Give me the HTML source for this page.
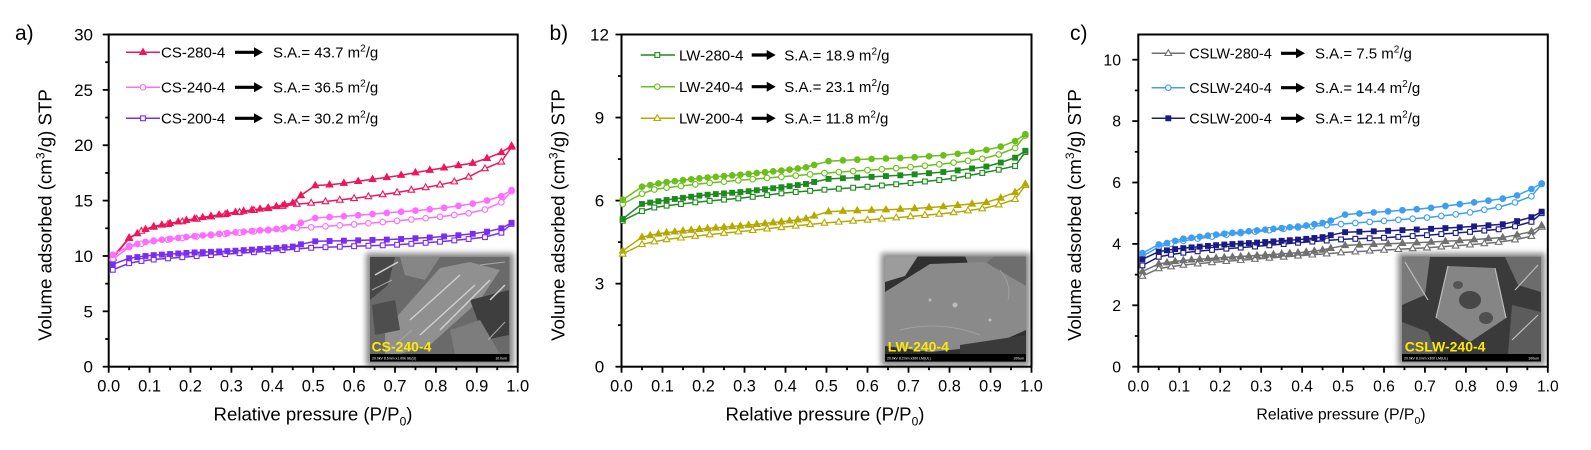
<!DOCTYPE html>
<html><head><meta charset="utf-8">
<style>
html,body{margin:0;padding:0;background:#fff;}
svg{display:block;}
text{font-family:"Liberation Sans",Arial,sans-serif;}
</style></head><body>
<svg id="s" width="1591" height="450" viewBox="0 0 1591 450" xmlns="http://www.w3.org/2000/svg">
<defs>
<filter id="sh" x="-20%" y="-20%" width="140%" height="140%"><feGaussianBlur stdDeviation="3"/></filter>
<clipPath id="cla"><rect x="370" y="256.7" width="139.5" height="105"/></clipPath>
<clipPath id="clb"><rect x="885" y="256.5" width="141" height="105.2"/></clipPath>
<clipPath id="clc"><rect x="1402" y="256.7" width="139" height="104.8"/></clipPath>
</defs>

<!-- inset a -->
<rect x="366" y="253" width="148" height="113" fill="#8a8a8a" filter="url(#sh)"/>
<g clip-path="url(#cla)">
<rect x="370" y="256.7" width="139.5" height="105" fill="#6a6a6a"/>
<polygon points="370,257 395,257 388,285 370,300" fill="#474747"/>
<polygon points="400,257 440,257 425,280 405,275" fill="#868686"/>
<polygon points="385,330 440,268 470,262 500,270 480,300 430,345 400,354 385,354" fill="#909090"/>
<polygon points="470,300 509,290 509,335 485,340" fill="#3e3e3e"/>
<polygon points="372,305 395,300 400,330 375,335" fill="#4e4e4e"/>
<polygon points="450,330 480,320 500,354 455,354" fill="#7d7d7d"/>
<g stroke="#cfcfcf" stroke-width="1.5">
<line x1="410" y1="320" x2="460" y2="275"/>
<line x1="420" y1="335" x2="475" y2="285"/>
<line x1="440" y1="330" x2="490" y2="280"/>
<line x1="375" y1="275" x2="398" y2="262"/>
<line x1="490" y1="300" x2="505" y2="285"/>
</g>
<g stroke="#a8a8a8" stroke-width="1">
<line x1="372" y1="290" x2="392" y2="280"/>
<line x1="480" y1="265" x2="505" y2="262"/>
<line x1="395" y1="345" x2="412" y2="330"/>
<line x1="488" y1="340" x2="505" y2="322"/>
</g>
<rect x="370" y="354" width="139.5" height="7.7" fill="#000"/>
<text x="372" y="359.5" font-size="3.5" fill="#fff">20.0kV 8.6mm x1.00k SE(U)</text>
<text x="507" y="359.5" font-size="3.5" fill="#fff" text-anchor="end">10.0um</text>
<text x="371.5" y="351.5" font-size="14" font-weight="bold" fill="#ffe800">CS-240-4</text>
</g>

<!-- inset b -->
<rect x="881" y="253" width="149" height="113" fill="#8a8a8a" filter="url(#sh)"/>
<g clip-path="url(#clb)">
<rect x="885" y="256.5" width="141" height="105.2" fill="#303030"/>
<polygon points="885,256 918,256 905,276 885,282" fill="#9c9c9c"/>
<polygon points="965,256 1000,256 990,270 970,268" fill="#7e7e7e"/>
<ellipse cx="1010" cy="282" rx="30" ry="30" fill="#6e6e6e"/>
<polygon points="885,292 930,264 985,262 1026,286 1026,330 990,346 930,352 885,346" fill="#8a8a8a"/>
<polygon points="960,345 1026,335 1026,354 960,354" fill="#3a3a3a"/>
<g fill="#bdbdbd"><circle cx="955" cy="305" r="2.5"/><circle cx="930" cy="300" r="1.5"/><circle cx="990" cy="320" r="1.5"/></g>
<g stroke="#a0a0a0" stroke-width="1" fill="none">
<path d="M900 330 Q940 320 980 335"/>
<path d="M1000 270 Q1012 285 1008 300"/>
</g>
<rect x="885" y="354" width="141" height="7.7" fill="#000"/>
<text x="887" y="359.5" font-size="3.5" fill="#fff">20.0kV 8.2mm x300 LM(UL)</text>
<text x="1024" y="359.5" font-size="3.5" fill="#fff" text-anchor="end">100um</text>
<text x="887.7" y="351.7" font-size="14" font-weight="bold" fill="#ffe800">LW-240-4</text>
</g>

<!-- inset c -->
<rect x="1398" y="253" width="147" height="112" fill="#8a8a8a" filter="url(#sh)"/>
<g clip-path="url(#clc)">
<rect x="1402" y="256.7" width="139" height="104.8" fill="#3a3a3a"/>
<polygon points="1402,257 1430,257 1425,295 1402,305" fill="#7a7a7a"/>
<polygon points="1448,266 1495,268 1506,318 1470,342 1436,318" fill="#858585"/>
<ellipse cx="1470" cy="300" rx="11" ry="9" fill="#474747"/>
<ellipse cx="1486" cy="318" rx="7" ry="6" fill="#4f4f4f"/>
<ellipse cx="1458" cy="285" rx="5" ry="4" fill="#555"/>
<polygon points="1505,257 1541,257 1541,292 1518,285" fill="#6c6c6c"/>
<polygon points="1512,305 1541,312 1541,354 1508,354" fill="#5c5c5c"/>
<polygon points="1402,322 1428,332 1436,354 1402,354" fill="#606060"/>
<g stroke="#bdbdbd" stroke-width="1.2" fill="none">
<line x1="1405" y1="262" x2="1428" y2="300"/>
<line x1="1448" y1="266" x2="1436" y2="318"/>
<line x1="1495" y1="268" x2="1506" y2="318"/>
<line x1="1515" y1="290" x2="1538" y2="265"/>
<line x1="1512" y1="340" x2="1538" y2="315"/>
</g>
<rect x="1402" y="354" width="139" height="7.5" fill="#000"/>
<text x="1404" y="359.5" font-size="3.5" fill="#fff">20.0kV 8.3mm x300 LM(UL)</text>
<text x="1539" y="359.5" font-size="3.5" fill="#fff" text-anchor="end">100um</text>
<text x="1404.8" y="351.7" font-size="14" font-weight="bold" fill="#ffe800">CSLW-240-4</text>
</g>

<!-- frames -->
<g fill="none" stroke="#000" stroke-width="2">
<rect x="108.7" y="34.5" width="409" height="332.2"/>
<rect x="621.5" y="34.5" width="410" height="332.2"/>
<rect x="1138.3" y="34.5" width="409.5" height="332.2"/>
</g>
<g id="ticks" stroke="#000" stroke-width="1.8"></g>
<g id="data"></g>

<!-- panel labels -->
<text x="15" y="40" font-size="21">a)</text>
<text x="549.5" y="40" font-size="21">b)</text>
<text x="1070" y="40" font-size="21">c)</text>

<!-- panel a tick labels -->
<g font-size="17" text-anchor="end">
<text x="93" y="372.7">0</text><text x="93" y="317.3">5</text><text x="93" y="262">10</text>
<text x="93" y="206.6">15</text><text x="93" y="151.2">20</text><text x="93" y="95.9">25</text><text x="93" y="40.5">30</text>
</g>
<g font-size="16.5" text-anchor="middle">
<text x="108.7" y="391.5">0.0</text><text x="149.6" y="391.5">0.1</text><text x="190.5" y="391.5">0.2</text>
<text x="231.4" y="391.5">0.3</text><text x="272.3" y="391.5">0.4</text><text x="313.2" y="391.5">0.5</text>
<text x="354.1" y="391.5">0.6</text><text x="395" y="391.5">0.7</text><text x="435.9" y="391.5">0.8</text>
<text x="476.8" y="391.5">0.9</text><text x="517.7" y="391.5">1.0</text>
</g>
<!-- panel b tick labels -->
<g font-size="17" text-anchor="middle">
<text x="599.5" y="372.7">0</text><text x="599.5" y="289.6">3</text><text x="599.5" y="206.6">6</text>
<text x="599.5" y="123.5">9</text><text x="599.5" y="40.5">12</text>
</g>
<g font-size="16.3" text-anchor="middle">
<text x="621.5" y="391.5">0.0</text><text x="662.5" y="391.5">0.1</text><text x="703.5" y="391.5">0.2</text>
<text x="744.5" y="391.5">0.3</text><text x="785.5" y="391.5">0.4</text><text x="826.5" y="391.5">0.5</text>
<text x="867.5" y="391.5">0.6</text><text x="908.5" y="391.5">0.7</text><text x="949.5" y="391.5">0.8</text>
<text x="990.5" y="391.5">0.9</text><text x="1031.5" y="391.5">1.0</text>
</g>
<!-- panel c tick labels -->
<g font-size="15.8" text-anchor="end">
<text x="1121" y="372.3">0</text><text x="1121" y="310.9">2</text><text x="1121" y="249.5">4</text>
<text x="1121" y="188.1">6</text><text x="1121" y="126.7">8</text><text x="1121" y="65.3">10</text>
</g>
<g font-size="15.6" text-anchor="middle">
<text x="1138.3" y="391.5">0.0</text><text x="1179.3" y="391.5">0.1</text><text x="1220.2" y="391.5">0.2</text>
<text x="1261.2" y="391.5">0.3</text><text x="1302.1" y="391.5">0.4</text><text x="1343.1" y="391.5">0.5</text>
<text x="1384" y="391.5">0.6</text><text x="1425" y="391.5">0.7</text><text x="1465.9" y="391.5">0.8</text>
<text x="1506.9" y="391.5">0.9</text><text x="1547.8" y="391.5">1.0</text>
</g>

<!-- axis titles -->
<text x="313" y="420.7" font-size="18.6" text-anchor="middle">Relative pressure (P/P<tspan font-size="12" dy="5">0</tspan><tspan dy="-5">)</tspan></text>
<text x="825" y="420.7" font-size="18.6" text-anchor="middle">Relative pressure (P/P<tspan font-size="12" dy="5">0</tspan><tspan dy="-5">)</tspan></text>
<text x="1341" y="419.5" font-size="15.8" text-anchor="middle">Relative pressure (P/P<tspan font-size="10.5" dy="4.5">0</tspan><tspan dy="-4.5">)</tspan></text>

<text transform="translate(51.5,215) rotate(-90)" font-size="18.7" text-anchor="middle">Volume adsorbed (cm<tspan font-size="12" dy="-7">3</tspan><tspan dy="7">/g) STP</tspan></text>
<text transform="translate(564.5,215) rotate(-90)" font-size="18.7" text-anchor="middle">Volume adsorbed (cm<tspan font-size="12" dy="-7">3</tspan><tspan dy="7">/g) STP</tspan></text>
<text transform="translate(1081,215) rotate(-90)" font-size="18.7" text-anchor="middle">Volume adsorbed (cm<tspan font-size="12" dy="-7">3</tspan><tspan dy="7">/g) STP</tspan></text>

<!-- legends text -->
<g font-size="15">
<text x="161" y="57.6">CS-280-4</text>
<text x="273" y="57.6">S.A.= 43.7 m<tspan font-size="10" dy="-6">2</tspan><tspan dy="6">/g</tspan></text>
<text x="161" y="92.6">CS-240-4</text>
<text x="273" y="92.6">S.A.= 36.5 m<tspan font-size="10" dy="-6">2</tspan><tspan dy="6">/g</tspan></text>
<text x="161" y="123.6">CS-200-4</text>
<text x="273" y="123.6">S.A.= 30.2 m<tspan font-size="10" dy="-6">2</tspan><tspan dy="6">/g</tspan></text>

<text x="679" y="60.3">LW-280-4</text>
<text x="784.3" y="60.3">S.A.= 18.9 m<tspan font-size="10" dy="-6">2</tspan><tspan dy="6">/g</tspan></text>
<text x="679" y="92">LW-240-4</text>
<text x="784.3" y="92">S.A.= 23.1 m<tspan font-size="10" dy="-6">2</tspan><tspan dy="6">/g</tspan></text>
<text x="679" y="123.6">LW-200-4</text>
<text x="784.3" y="123.6">S.A.= 11.8 m<tspan font-size="10" dy="-6">2</tspan><tspan dy="6">/g</tspan></text>

<text x="1189.3" y="58.6" font-size="14.5">CSLW-280-4</text>
<text x="1315" y="58.6">S.A.= 7.5 m<tspan font-size="10" dy="-6">2</tspan><tspan dy="6">/g</tspan></text>
<text x="1189.3" y="93" font-size="14.5">CSLW-240-4</text>
<text x="1315" y="93">S.A.= 14.4 m<tspan font-size="10" dy="-6">2</tspan><tspan dy="6">/g</tspan></text>
<text x="1189.3" y="123.6" font-size="14.5">CSLW-200-4</text>
<text x="1315" y="123.6">S.A.= 12.1 m<tspan font-size="10" dy="-6">2</tspan><tspan dy="6">/g</tspan></text>
</g>

<!-- arrows -->
<g fill="#000">
<path d="M235 50.7H254V47.3L263 52.3L254 57.3V53.9H235Z"/>
<path d="M235 85.7H254V82.3L263 87.3L254 92.3V88.9H235Z"/>
<path d="M235 116.7H254V113.3L263 118.3L254 123.3V119.9H235Z"/>
<path d="M751.7 53.4H766.7V50L775.7 55L766.7 60V56.6H751.7Z"/>
<path d="M751.7 85.1H766.7V81.7L775.7 86.7L766.7 91.7V88.3H751.7Z"/>
<path d="M751.7 116.7H766.7V113.3L775.7 118.3L766.7 123.3V119.9H751.7Z"/>
<path d="M1281 51.7H1296V48.3L1305 53.3L1296 58.3V54.9H1281Z"/>
<path d="M1281 86.1H1296V82.7L1305 87.7L1296 92.7V89.3H1281Z"/>
<path d="M1281 116.7H1296V113.3L1305 118.3L1296 123.3V119.9H1281Z"/>
</g>
</svg>
<script>
(function(){
var NS="http://www.w3.org/2000/svg";
function el(tag,attrs,parent){var e=document.createElementNS(NS,tag);for(var k in attrs)e.setAttribute(k,attrs[k]);parent.appendChild(e);return e;}
var P=[{x0:108.7,W:409,y0:366.7,k:11.073},{x0:621.5,W:410,y0:366.7,k:27.683},{x0:1138.3,W:409.5,y0:366.7,k:30.7}];
var tg=document.getElementById('ticks');
function ticks(pi,major,minor,vmax){var p=P[pi];
 for(var i=0;i<=10;i++){var x=p.x0+i*0.1*p.W;el('line',{x1:x,y1:p.y0,x2:x,y2:p.y0+6},tg);
  if(i<10){var xm=x+0.05*p.W;el('line',{x1:xm,y1:p.y0,x2:xm,y2:p.y0+3.5},tg);}}
 for(var n=0;n*minor<=vmax+1e-6;n++){var v=n*minor;var y=p.y0-v*p.k;var r=v/major;var maj=Math.abs(r-Math.round(r))<1e-6;
  el('line',{x1:p.x0-(maj?6:3.5),y1:y,x2:p.x0,y2:y},tg);}
}
ticks(0,5,2.5,30);ticks(1,3,1.5,12);ticks(2,2,1,10.8);

var dg=document.getElementById('data');
function interp(c,p){if(p<=c[0][0])return c[0][1];for(var i=1;i<c.length;i++){if(p<=c[i][0]){var t=(p-c[i-1][0])/(c[i][0]-c[i-1][0]);return c[i-1][1]+t*(c[i][1]-c[i-1][1]);}}return c[c.length-1][1];}
function adsP(s0){var a=[s0,0.05,0.08];for(var q=0.11;q<0.9;q+=0.035)a.push(q);a.push(0.92,0.96,0.985);return a;}
function desP(s0){var a=[0.985,0.96,0.925];for(var q=0.89;q>0.46;q-=0.035)a.push(q);for(var q2=0.45;q2>0.06;q2-=0.02)a.push(q2);a.push(0.05,s0);return a;}
function marker(shape,x,y,color,fill,g){
 if(shape==='t')el('path',{d:'M'+x+','+(y-3.6)+'L'+(x+3.3)+','+(y+2.2)+'L'+(x-3.3)+','+(y+2.2)+'Z',fill:fill,stroke:color,'stroke-width':1.1},g);
 else if(shape==='c')el('circle',{cx:x,cy:y,r:2.8,fill:fill,stroke:color,'stroke-width':1.1},g);
 else el('rect',{x:x-2.4,y:y-2.4,width:4.8,height:4.8,fill:fill,stroke:color,'stroke-width':1.1},g);
}
function series(pi,lo,up,color,shape,s0){
 var p=P[pi];lo=lo.slice().sort(function(a,b){return a[0]-b[0];});up=up.slice().sort(function(a,b){return a[0]-b[0];});
 var X=function(q){return p.x0+q*p.W;},Y=function(v){return p.y0-v*p.k;};
 var A=adsP(s0).map(function(q){return [X(q),Y(interp(lo,q))];});
 var D=desP(s0).map(function(q){return [X(q),Y(interp(up,q))];});
 var g=el('g',{},dg);
 el('polyline',{points:A.map(function(a){return a[0].toFixed(1)+','+a[1].toFixed(1);}).join(' '),fill:'none',stroke:color,'stroke-width':1.5},g);
 el('polyline',{points:D.map(function(a){return a[0].toFixed(1)+','+a[1].toFixed(1);}).join(' '),fill:'none',stroke:color,'stroke-width':1.5},g);
 A.forEach(function(a){marker(shape,a[0],a[1],color,'#fff',g);});
 D.forEach(function(a){marker(shape,a[0],a[1],color,color,g);});
}
function legend(x1,x2,xm,y,color,shape,fill){var g=el('g',{},dg);el('line',{x1:x1,y1:y,x2:x2,y2:y,stroke:color,'stroke-width':1.5},g);marker(shape,xm,y,color,fill,g);}

// Panel a
var c1='#f0145a',c2='#ff6cff',c3='#7a2cf0';
series(0,[[0.01,9.8],[0.05,11.6],[0.08,12.25],[0.1,12.55],[0.2,13.25],[0.3,13.85],[0.4,14.35],[0.45,14.65],[0.5,14.8],[0.6,15.2],[0.7,15.7],[0.8,16.35],[0.85,16.75],[0.9,17.4],[0.92,17.9],[0.96,18.5],[0.985,19.85]],
 [[0.985,19.95],[0.96,19.35],[0.92,18.75],[0.9,18.45],[0.8,17.85],[0.7,17.2],[0.6,16.7],[0.55,16.45],[0.5,16.35],[0.48,15.8],[0.45,14.8],[0.4,14.4],[0.3,13.9],[0.2,13.3],[0.1,12.6],[0.05,11.65],[0.01,9.9]],c1,'t',0.01);
series(0,[[0.01,9.7],[0.05,10.8],[0.08,11.1],[0.1,11.3],[0.2,11.7],[0.3,12.05],[0.4,12.35],[0.45,12.5],[0.5,12.6],[0.6,12.85],[0.7,13.15],[0.8,13.5],[0.9,13.95],[0.92,14.2],[0.96,14.85],[0.985,15.85]],
 [[0.985,15.95],[0.96,15.4],[0.92,14.95],[0.88,14.65],[0.8,14.25],[0.7,13.95],[0.6,13.65],[0.5,13.42],[0.47,13.0],[0.45,12.6],[0.4,12.4],[0.3,12.1],[0.2,11.75],[0.1,11.35],[0.05,10.9],[0.01,10.1]],c2,'c',0.01);
series(0,[[0.01,8.75],[0.05,9.35],[0.08,9.55],[0.1,9.65],[0.2,9.95],[0.3,10.2],[0.4,10.45],[0.45,10.6],[0.5,10.75],[0.6,10.88],[0.7,11.0],[0.8,11.25],[0.9,11.6],[0.92,11.7],[0.96,12.1],[0.985,12.9]],
 [[0.985,13.0],[0.96,12.5],[0.92,12.15],[0.88,11.95],[0.8,11.7],[0.7,11.5],[0.6,11.4],[0.5,11.32],[0.47,11.05],[0.45,10.85],[0.4,10.7],[0.3,10.45],[0.2,10.3],[0.1,10.05],[0.05,9.8],[0.01,9.25]],c3,'s',0.01);
legend(126,160,143,52.3,c1,'t',c1);legend(126,160,143,87.3,c2,'c','#fff');legend(126,160,143,118.3,c3,'s','#fff');

// Panel b
var d1='#1f8a1f',d2='#6cbf1a',d3='#b5a800';
series(1,[[0.0,5.25],[0.05,5.62],[0.08,5.75],[0.1,5.8],[0.2,5.97],[0.3,6.1],[0.4,6.28],[0.5,6.4],[0.6,6.5],[0.7,6.63],[0.8,6.78],[0.9,7.05],[0.96,7.25],[0.985,7.75]],
 [[0.0,5.3],[0.05,5.88],[0.1,6.0],[0.2,6.2],[0.3,6.32],[0.4,6.5],[0.45,6.6],[0.5,6.78],[0.6,6.85],[0.7,6.93],[0.8,7.05],[0.9,7.25],[0.96,7.55],[0.985,7.8]],d1,'s',0.003);
series(1,[[0.0,5.85],[0.05,6.25],[0.08,6.4],[0.1,6.45],[0.2,6.62],[0.3,6.75],[0.4,6.87],[0.5,7.0],[0.6,7.1],[0.7,7.2],[0.8,7.35],[0.9,7.55],[0.96,7.9],[0.985,8.35]],
 [[0.0,6.0],[0.05,6.5],[0.1,6.65],[0.2,6.82],[0.3,6.95],[0.4,7.1],[0.45,7.2],[0.5,7.42],[0.6,7.5],[0.7,7.55],[0.8,7.65],[0.9,7.85],[0.92,7.92],[0.96,8.15],[0.985,8.4]],d2,'c',0.003);
series(1,[[0.0,4.05],[0.05,4.42],[0.1,4.58],[0.2,4.75],[0.3,4.9],[0.4,5.05],[0.5,5.2],[0.6,5.3],[0.7,5.42],[0.8,5.55],[0.9,5.75],[0.96,6.05],[0.985,6.55]],
 [[0.0,4.15],[0.05,4.68],[0.1,4.83],[0.2,4.98],[0.3,5.1],[0.4,5.25],[0.45,5.35],[0.5,5.6],[0.6,5.65],[0.7,5.7],[0.8,5.8],[0.9,5.95],[0.96,6.3],[0.985,6.6]],d3,'t',0.003);
legend(640.7,675,657.3,55,d1,'s','#fff');legend(640.7,675,657.3,86.7,d2,'c','#fff');legend(640.7,675,657.3,118.3,d3,'t','#fff');

// Panel c
var e1='#707070',e2='#3d9ef2',e3='#1b1b85';
series(2,[[0.01,2.95],[0.05,3.2],[0.1,3.3],[0.2,3.42],[0.3,3.52],[0.4,3.62],[0.5,3.72],[0.6,3.8],[0.7,3.87],[0.8,3.96],[0.9,4.08],[0.96,4.25],[0.985,4.55]],
 [[0.01,3.1],[0.05,3.35],[0.1,3.45],[0.2,3.55],[0.3,3.63],[0.4,3.72],[0.45,3.8],[0.5,3.95],[0.6,4.0],[0.7,4.05],[0.8,4.12],[0.9,4.22],[0.96,4.4],[0.985,4.6]],e1,'t',0.01);
series(2,[[0.01,3.6],[0.05,3.9],[0.1,4.08],[0.2,4.28],[0.3,4.42],[0.4,4.55],[0.45,4.6],[0.5,4.65],[0.6,4.75],[0.7,4.85],[0.8,5.0],[0.88,5.2],[0.92,5.35],[0.96,5.55],[0.985,5.95]],
 [[0.01,3.7],[0.05,3.98],[0.08,4.05],[0.1,4.15],[0.2,4.32],[0.3,4.45],[0.4,4.58],[0.45,4.68],[0.48,4.8],[0.5,4.95],[0.6,5.05],[0.7,5.15],[0.8,5.32],[0.88,5.45],[0.92,5.55],[0.955,5.75],[0.985,5.97]],e2,'c',0.01);
series(2,[[0.01,3.3],[0.05,3.58],[0.1,3.7],[0.2,3.83],[0.3,3.93],[0.4,4.05],[0.5,4.15],[0.6,4.2],[0.7,4.28],[0.8,4.38],[0.9,4.5],[0.96,4.72],[0.985,5.0]],
 [[0.01,3.5],[0.05,3.75],[0.1,3.85],[0.2,3.97],[0.3,4.05],[0.4,4.15],[0.45,4.22],[0.5,4.38],[0.6,4.42],[0.7,4.48],[0.8,4.55],[0.9,4.65],[0.96,4.87],[0.985,5.05]],e3,'s',0.01);
legend(1151.7,1185,1168.3,53.3,e1,'t','#fff');legend(1151.7,1185,1168.3,87.7,e2,'c','#fff');legend(1151.7,1185,1168.3,118.3,e3,'s',e3);
})();
</script>
</body></html>
